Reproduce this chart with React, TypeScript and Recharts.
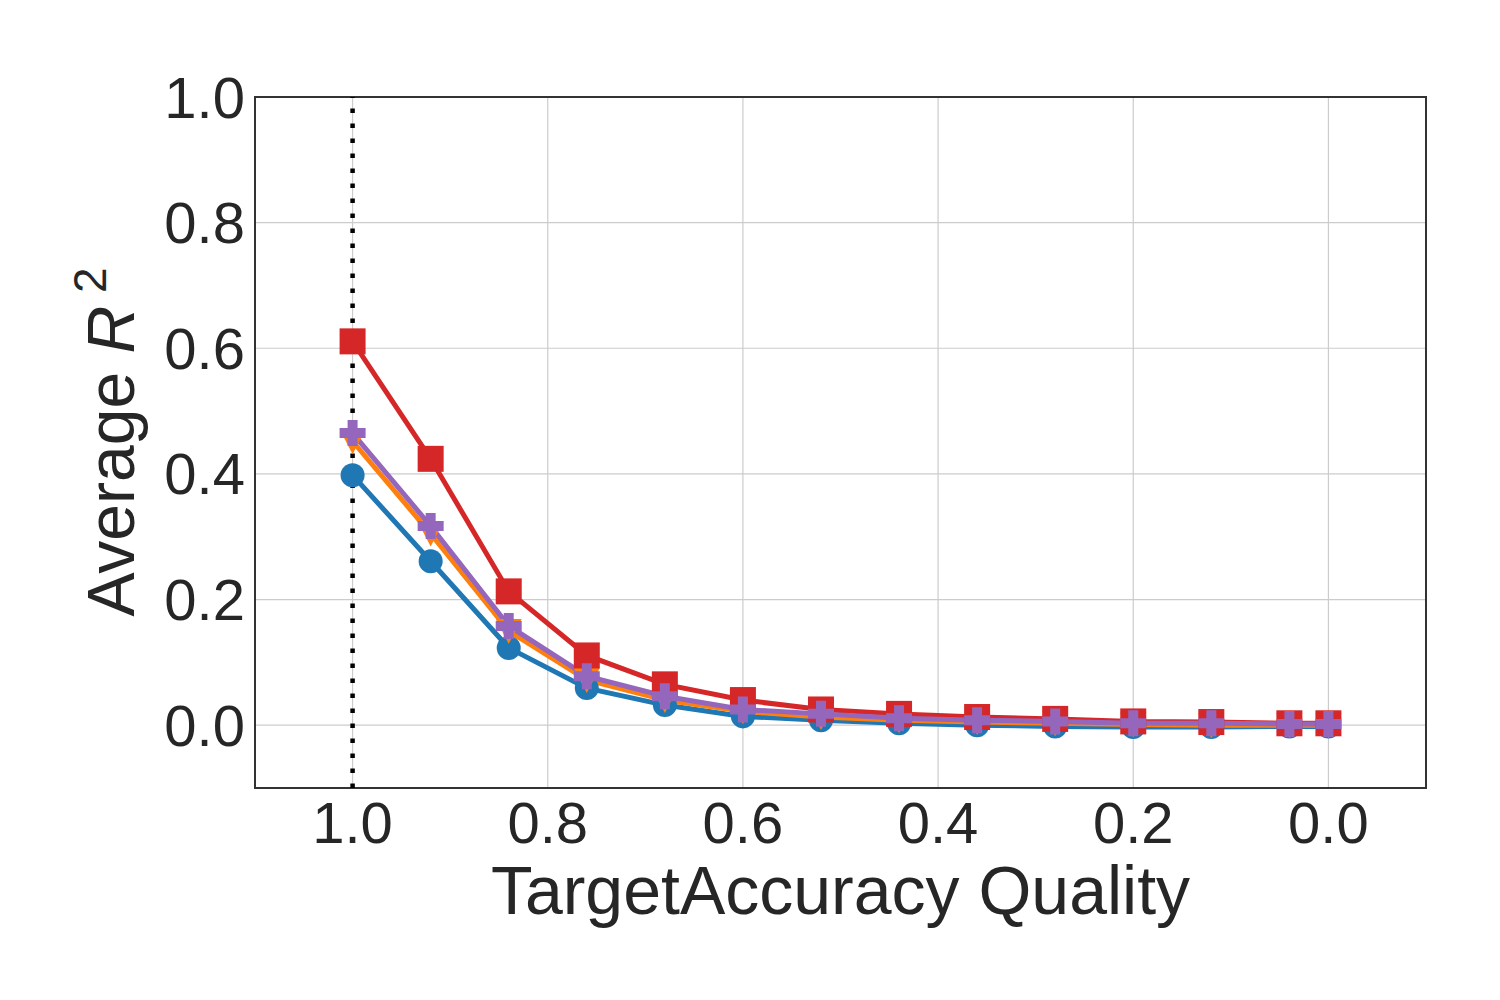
import React from "react";
import { LineChart, Line, XAxis, YAxis, CartesianGrid, ReferenceLine, ReferenceArea } from "recharts";

const quality = [1.0, 0.92, 0.84, 0.76, 0.68, 0.6, 0.52, 0.44, 0.36, 0.28, 0.2, 0.12, 0.04, 0.0];
const blueCircle = [0.398, 0.261, 0.123, 0.059, 0.032, 0.014, 0.008, 0.003, 0.0, -0.002, -0.003, -0.003, -0.002, -0.002];
const orangeTri = [0.452, 0.305, 0.150, 0.072, 0.040, 0.022, 0.013, 0.008, 0.005, 0.003, 0.001, 0.0, 0.0, 0.0];
const redSquare = [0.611, 0.424, 0.213, 0.111, 0.065, 0.040, 0.025, 0.018, 0.013, 0.010, 0.006, 0.005, 0.003, 0.003];
const purplePlus = [0.465, 0.317, 0.158, 0.078, 0.046, 0.025, 0.018, 0.011, 0.008, 0.006, 0.003, 0.003, 0.002, 0.002];
const xTicks = [1.0, 0.8, 0.6, 0.4, 0.2, 0.0];
const yTicks = [0.0, 0.2, 0.4, 0.6, 0.8, 1.0];

const data = quality.map((q, i) => ({
  q,
  blue: blueCircle[i],
  orange: orangeTri[i],
  red: redSquare[i],
  purple: purplePlus[i],
}));

const FONT = "'Liberation Sans', Arial, sans-serif";
const BLUE = "#1f77b4";
const ORANGE = "#ff7f0e";
const RED = "#d62728";
const PURPLE = "#9467bd";

const circleDot = (p: any) => <circle key={p.index} cx={p.cx} cy={p.cy} r={12} fill={BLUE} />;
const triDot = (p: any) => (
  <path key={p.index} d={`M${p.cx - 13},${p.cy - 12} L${p.cx + 13},${p.cy - 12} L${p.cx},${p.cy + 13} Z`} fill={ORANGE} />
);
const squareDot = (p: any) => <rect key={p.index} x={p.cx - 13} y={p.cy - 13} width={26} height={26} fill={RED} />;
const plusDot = (p: any) => {
  const a = 13, t = 5;
  const { cx, cy } = p;
  const d = `M${cx - t},${cy - a} H${cx + t} V${cy - t} H${cx + a} V${cy + t} H${cx + t} V${cy + a} H${cx - t} V${cy + t} H${cx - a} V${cy - t} H${cx - t} Z`;
  return <path key={p.index} d={d} fill={PURPLE} />;
};

const fmt = (v: number) => v.toFixed(1);

const YLabel = () => (
  <text transform="translate(134,442) rotate(-90)" textAnchor="middle" fontFamily={FONT} fontSize={66} fill="#262626">
    Average <tspan fontStyle="italic">R</tspan>
    <tspan dy={-28} fontSize={46}> 2</tspan>
  </text>
);

export default function App() {
  return (
    <div style={{ width: 1500, height: 1000, background: "#fff" }}>
      <style>{`body{margin:0}`}</style>
      <LineChart width={1500} height={1000} data={data} margin={{ top: 97, right: 74, bottom: 0, left: 0 }}>
        <CartesianGrid stroke="#cccccc" strokeWidth={1.2} />
        <XAxis
          dataKey="q"
          type="number"
          domain={[-0.1, 1.1]}
          reversed
          ticks={xTicks}
          tickFormatter={fmt}
          height={212}
          axisLine={false}
          tickLine={false}
          tickMargin={8}
          tick={{ fontSize: 58, fill: "#262626", fontFamily: FONT }}
          label={{ value: "TargetAccuracy Quality", position: "insideTop", offset: 78, fontSize: 68, fill: "#262626", fontFamily: FONT }}
        />
        <YAxis
          type="number"
          domain={[-0.1, 1.0]}
          ticks={yTicks}
          tickFormatter={fmt}
          width={255}
          axisLine={false}
          tickLine={false}
          tickMargin={4}
          tick={{ fontSize: 58, fill: "#262626", fontFamily: FONT }}
          label={{ content: () => <YLabel /> }}
        />
        <ReferenceArea x1={1.1} x2={-0.1} y1={-0.1} y2={1.0} fill="none" stroke="#333333" strokeWidth={2} />
        <Line dataKey="blue" stroke={BLUE} strokeWidth={5} dot={circleDot} isAnimationActive={false} />
        <Line dataKey="orange" stroke={ORANGE} strokeWidth={5} dot={triDot} isAnimationActive={false} />
        <Line dataKey="red" stroke={RED} strokeWidth={5} dot={squareDot} isAnimationActive={false} />
        <Line dataKey="purple" stroke={PURPLE} strokeWidth={5} dot={plusDot} isAnimationActive={false} />
        <ReferenceLine x={1.0} stroke="#000" strokeWidth={4.5} strokeDasharray="4.5 10.5" />
      </LineChart>
    </div>
  );
}
